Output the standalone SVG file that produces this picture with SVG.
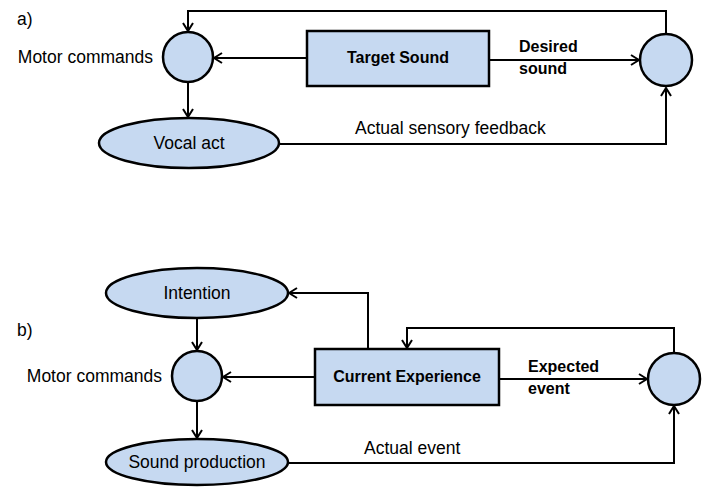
<svg xmlns="http://www.w3.org/2000/svg" width="707" height="488" viewBox="0 0 707 488">
<style>
.n{fill:#c6d9f1;stroke:#000;stroke-width:2.5}
.c{fill:none;stroke:#000;stroke-width:2}
.t{font-family:"Liberation Sans",Arial,sans-serif;font-size:17.5px;fill:#000}
.b{font-family:"Liberation Sans",Arial,sans-serif;font-size:16px;font-weight:bold;fill:#000}
</style>
<defs>
<marker id="ar" markerWidth="10" markerHeight="12" refX="9" refY="6" orient="auto" markerUnits="userSpaceOnUse">
<path d="M1,1 L9,6 L1,11" fill="none" stroke="#000" stroke-width="2"/>
</marker>
</defs>
<rect width="707" height="488" fill="#fff"/>
<text class="t" x="17" y="25">a)</text>
<text class="t" x="17" y="336">b)</text>
<g id="connectors">
<path class="c" d="M666,34 V11 H188 V31" marker-end="url(#ar)"/>
<path class="c" d="M307,58 H214" marker-end="url(#ar)"/>
<path class="c" d="M489,60 H639" marker-end="url(#ar)"/>
<path class="c" d="M188,83 V117" marker-end="url(#ar)"/>
<path class="c" d="M279,144 H666 V88" marker-end="url(#ar)"/>
<path class="c" d="M368,349 V293 H289" marker-end="url(#ar)"/>
<path class="c" d="M197,319 V350" marker-end="url(#ar)"/>
<path class="c" d="M315,377 H223" marker-end="url(#ar)"/>
<path class="c" d="M499,379 H647" marker-end="url(#ar)"/>
<path class="c" d="M674,353 V328 H407 V348" marker-end="url(#ar)"/>
<path class="c" d="M197,402 V438" marker-end="url(#ar)"/>
<path class="c" d="M288,463 H674 V406" marker-end="url(#ar)"/>
<text class="b" x="519" y="52">Desired</text>
<text class="b" x="519" y="74">sound</text>
<text class="t" x="355" y="134">Actual sensory feedback</text>
<text class="b" x="528" y="372">Expected</text>
<text class="b" x="528" y="394">event</text>
<text class="t" x="364" y="454">Actual event</text>
</g>
<g id="motor-a">
<circle class="n" cx="188" cy="57" r="25"/>
<text class="t" x="153" y="63" text-anchor="end">Motor commands</text>
</g>
<g id="target-sound">
<rect class="n" x="307" y="31" width="182" height="55"/>
<text class="b" x="398" y="63" text-anchor="middle">Target Sound</text>
</g>
<g id="compare-a">
<circle class="n" cx="666" cy="60" r="26"/>
</g>
<g id="vocal-act">
<ellipse class="n" cx="189" cy="143" rx="90" ry="25"/>
<text class="t" x="189" y="149" text-anchor="middle">Vocal act</text>
</g>
<g id="intention">
<ellipse class="n" cx="197" cy="293" rx="91" ry="25"/>
<text class="t" x="197" y="299" text-anchor="middle">Intention</text>
</g>
<g id="motor-b">
<circle class="n" cx="197" cy="376" r="25"/>
<text class="t" x="162" y="382" text-anchor="end">Motor commands</text>
</g>
<g id="current-experience">
<rect class="n" x="315" y="349" width="184" height="56"/>
<text class="b" x="407" y="382" text-anchor="middle">Current Experience</text>
</g>
<g id="compare-b">
<circle class="n" cx="674" cy="379" r="26"/>
</g>
<g id="sound-production">
<ellipse class="n" cx="197" cy="462" rx="91" ry="23"/>
<text class="t" x="197" y="468" text-anchor="middle">Sound production</text>
</g>
</svg>
